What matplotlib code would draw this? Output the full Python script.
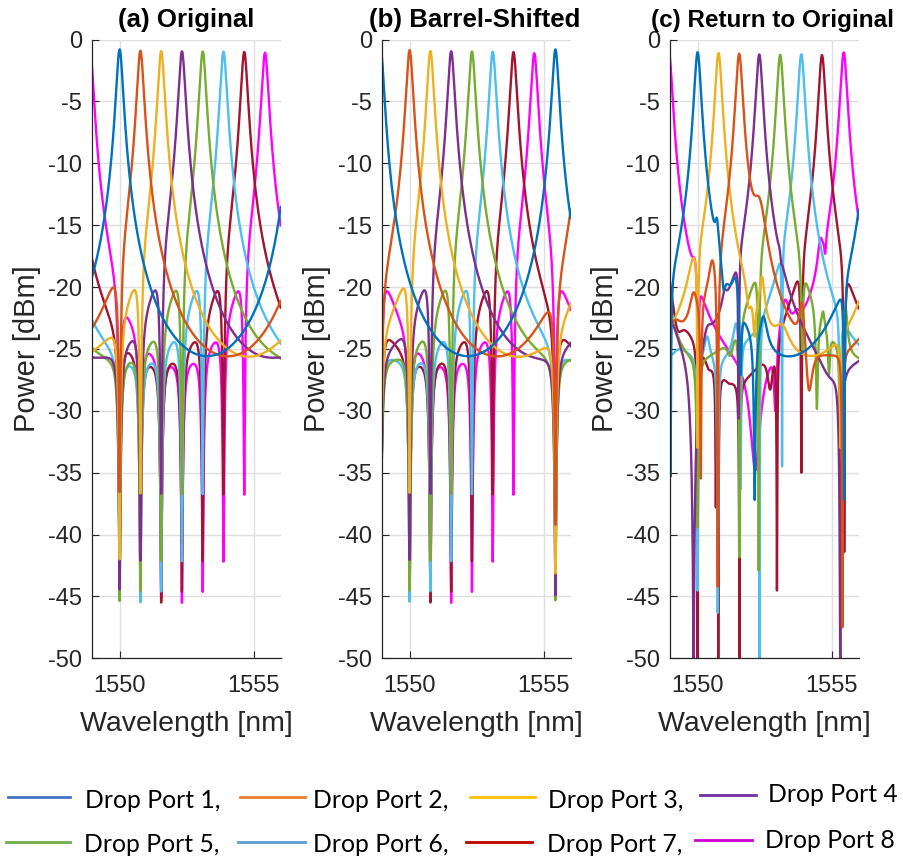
import numpy as np
import matplotlib.pyplot as plt
from matplotlib.lines import Line2D

plt.rcParams['font.family'] = ['Liberation Sans', 'DejaVu Sans']
plt.rcParams['axes.unicode_minus'] = False

# wavelength span of the sweep [nm]
wl_min, wl_max = 1548.97, 1556.01

# ring filter parameters
FSR = 6.52          # free spectral range [nm]
F_COEF = 300        # coefficient of finesse
DROP_IL = -0.8      # drop-port insertion loss [dB]
THRU_EXT = -19.65   # through-port extinction at resonance [dB]

port_names = ['Drop Port 1,', 'Drop Port 2,', 'Drop Port 3,', 'Drop Port 4',
              'Drop Port 5,', 'Drop Port 6,', 'Drop Port 7,', 'Drop Port 8']
line_colors = ['#0072BD', '#D95319', '#EDB120', '#7E2F8E',
               '#77AC30', '#4DBEEE', '#A2142F', '#FF00FF']
key_colors = ['#4472C4', '#ED7D31', '#FFC000', '#7030A0',
              '#70AD47', '#5B9BD5', '#C00000', '#CC00CC']

# resonance wavelength of each ring, ports 1..8 [nm]
res_original = [1550.0, 1550.775, 1551.55, 1552.325, 1553.1, 1553.875, 1554.65, 1555.425]
res_shifted = [1555.44, 1550.0, 1550.775, 1551.55, 1552.325, 1553.1, 1553.875, 1554.65]
res_return = [1550.0, 1551.55, 1550.78, 1552.3, 1553.08, 1553.87, 1554.64, 1555.45]
peak_return = [-1.0, -1.1, -1.06, -1.1, -1.17, -1.17, -1.0, -0.98]

# measured spectral features after returning: (wavelength nm, level dBm, half width nm)
feat_p1 = [(1548.99, -35.3, 0.05), (1550.72, -14.3, 0.07), (1550.97, -20.2, 0.08),
           (1551.42, -18.9, 0.15), (1551.6, -27.0, 0.06), (1552.13, -37.2, 0.08),
           (1552.45, -22.1, 0.15), (1555.47, -37.2, 0.05)]
feat_p2 = [(1549.15, -23.0, 0.3), (1549.85, -20.5, 0.15), (1550.12, -35.4, 0.05),
           (1550.55, -17.3, 0.12), (1550.75, -44.2, 0.08), (1552.3, -12.7, 0.25),
           (1553.9, -20.0, 0.1), (1554.15, -28.3, 0.2), (1555.4, -47.5, 0.05)]
feat_p3 = [(1549.85, -17.2, 0.2), (1550.0, -33.0, 0.05), (1551.9, -21.5, 0.1),
           (1552.12, -24.0, 0.06), (1552.4, -19.1, 0.1), (1553.15, -23.0, 0.3),
           (1555.33, -33.0, 0.04)]
feat_p4 = [(1548.97, -22.4, 0.35), (1549.85, -50.0, 0.25), (1550.35, -22.3, 0.2),
           (1551.0, -20.0, 0.1), (1551.38, -18.6, 0.12), (1551.53, -30.6, 0.04),
           (1553.05, -16.6, 0.05), (1553.12, -18.0, 0.03), (1554.9, -27.0, 0.5),
           (1555.32, -50.0, 0.1)]
feat_p5 = [(1548.97, -22.5, 0.3), (1550.0, -39.4, 0.08), (1551.22, -25.4, 0.15),
           (1551.56, -41.8, 0.06), (1552.28, -42.9, 0.06), (1553.9, -25.0, 0.06),
           (1554.45, -29.8, 0.07), (1554.68, -21.5, 0.06), (1554.9, -27.0, 0.05),
           (1555.32, -50.0, 0.05), (1555.52, -21.4, 0.07)]
feat_p6 = [(1548.97, -25.3, 0.3), (1550.0, -44.5, 0.06), (1550.35, -23.7, 0.12),
           (1550.75, -46.3, 0.06), (1551.44, -22.5, 0.12), (1551.6, -36.3, 0.05),
           (1552.31, -50.0, 0.05), (1553.15, -34.5, 0.03), (1555.32, -35.0, 0.05)]
feat_p7 = [(1551.5, -27.5, 1.2), (1549.23, -23.3, 0.3), (1550.0, -50.0, 0.05),
           (1550.41, -26.5, 0.12), (1550.68, -36.6, 0.03), (1550.77, -50.0, 0.05),
           (1551.16, -27.7, 0.12), (1551.56, -50.0, 0.05), (1551.97, -26.6, 0.15),
           (1552.71, -28.1, 0.15), (1552.96, -44.5, 0.05), (1553.87, -35.0, 0.06),
           (1555.47, -41.4, 0.06)]
feat_p8 = [(1549.9, -17.3, 0.1), (1550.02, -30.0, 0.04), (1552.15, -34.8, 0.4),
           (1552.9, -30.0, 0.08), (1553.25, -20.5, 0.2), (1553.7, -21.6, 0.15),
           (1554.58, -15.9, 0.1), (1554.76, -17.3, 0.04)]
feat_return = [feat_p1, feat_p2, feat_p3, feat_p4, feat_p5, feat_p6, feat_p7, feat_p8]

wl = np.linspace(wl_min, wl_max, 24001)


def airy(lam, centre):
    return 1.0 / (1.0 + F_COEF * np.sin(np.pi * (lam - centre) / FSR) ** 2)


def cascade(lam, res):
    # drop k only sees light that passed the through ports of rings 1..k-1
    ext = 10 ** (THRU_EXT / 10)
    thru = np.ones_like(lam)
    spectra = []
    for c in res:
        d = airy(lam, c)
        spectra.append(10 * np.log10(10 ** (DROP_IL / 10) * d * thru))
        thru = thru * (1 - (1 - ext) * d)
    return spectra


def shaped(lam, centre, peak_db, feats):
    p = 10 ** (peak_db / 10) * airy(lam, centre)
    done = set()
    # raised parts first (added power), then dips (multiplied down)
    for n, (c, lvl, w) in enumerate(feats):
        cur = np.interp(c, lam, p)
        tgt = 10 ** (lvl / 10)
        if tgt > cur:
            p = p + (tgt - cur) / (1.0 + ((lam - c) / w) ** 2)
            done.add(n)
    for n, (c, lvl, w) in enumerate(feats):
        if n in done:
            continue
        cur = np.interp(c, lam, p)
        tgt = 10 ** (lvl / 10)
        if tgt < cur:
            p = p * (1 - (1 - tgt / cur) / (1.0 + ((lam - c) / w) ** 2))
    return 10 * np.log10(p)


spec_a = cascade(wl, res_original)
spec_b = cascade(wl, res_shifted)
spec_c = [shaped(wl, res_return[i], peak_return[i], feat_return[i]) for i in range(8)]

fig = plt.figure(figsize=(9.04, 8.64), dpi=100)
W, H = 904.0, 864.0
ax_left = [92.0, 382.0, 670.0]
ax_w, ax_top, ax_bot = 188.7, 39.5, 658.3
titles = ['(a) Original', '(b) Barrel-Shifted', '(c) Return to Original']
title_x = [0.5, 0.49, 0.543]
title_size = [18.6, 18.6, 17.5]

for k, spectra in enumerate([spec_a, spec_b, spec_c]):
    ax = fig.add_axes([ax_left[k] / W, 1 - ax_bot / H, ax_w / W, (ax_bot - ax_top) / H])
    for i in reversed(range(8)):
        ax.plot(wl, spectra[i], color=line_colors[i], lw=1.7)
    ax.set_xlim(wl_min, wl_max)
    ax.set_ylim(-50, 0)
    ax.set_xticks([1550, 1555])
    ax.set_yticks(np.arange(-50, 1, 5))
    ax.grid(True, color='#dfdfdf', lw=1.0)
    ax.set_axisbelow(True)
    for s in ['top', 'right']:
        ax.spines[s].set_visible(False)
    for s in ['left', 'bottom']:
        ax.spines[s].set_color('#262626')
        ax.spines[s].set_linewidth(0.9)
    ax.tick_params(direction='in', length=5, width=0.8, colors='#262626', labelsize=17)
    ax.tick_params(axis='x', pad=12)
    ax.tick_params(axis='y', pad=7)
    ax.set_xlabel('Wavelength [nm]', fontsize=20.5, color='#262626', labelpad=10)
    ax.set_ylabel('Power [dBm]', fontsize=21, color='#262626', labelpad=5)
    ax.set_title(titles[k], fontsize=title_size[k], fontweight='bold', pad=9, x=title_x[k])

# legend laid out in two rows under the panels
key_x = [(8, 70), (240, 305), (470, 535), (700, 756),
         (6, 70), (238, 305), (466, 532), (695, 752)]
key_y = [797, 797, 797, 795, 842, 842, 842, 840]
text_x = [85, 313, 548, 768, 84, 313, 547, 765]
text_y = [800, 800, 800, 795, 845, 845, 845, 840]
for i in range(8):
    x0, x1 = key_x[i]
    fig.add_artist(Line2D([x0 / W, x1 / W], [1 - key_y[i] / H] * 2,
                          transform=fig.transFigure, color=key_colors[i], lw=2))
    fig.text(text_x[i] / W, 1 - text_y[i] / H, port_names[i], fontsize=17.8,
             family=['Lato', 'DejaVu Sans'], va='center', ha='left')

fig.savefig('out.png', dpi=100)
